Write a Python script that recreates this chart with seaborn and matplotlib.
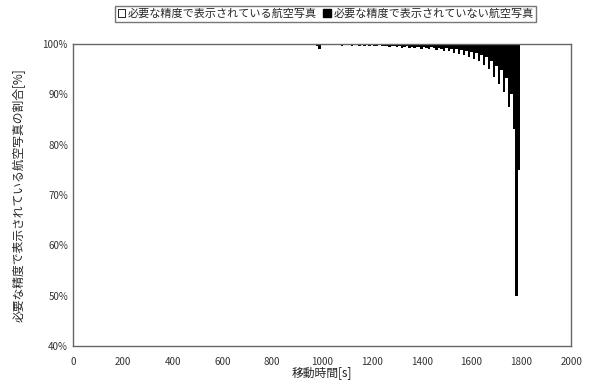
import matplotlib
matplotlib.use("Agg")
import matplotlib.pyplot as plt
from matplotlib.patches import Patch
from matplotlib.ticker import FuncFormatter
import pandas as pd
import seaborn as sns

# 移動時間[s] (10秒ごと)
times = list(range(880, 1800, 10))
# 必要な精度で表示されている航空写真の割合[%]
shown_ok = [
    99.9, 99.8, 99.9, 99.8, 99.9, 99.8, 99.9, 99.7, 99.8, 99.9,
    99.6, 98.9, 99.7, 99.8, 99.9, 99.7, 99.8, 99.8, 99.7, 99.8,
    99.6, 99.8, 99.7, 99.8, 99.6, 99.7, 99.8, 99.6, 99.7, 99.6,
    99.7, 99.5, 99.7, 99.6, 99.5, 99.7, 99.6, 99.5, 99.6, 99.4,
    99.6, 99.5, 99.4, 99.5, 99.2, 99.4, 99.5, 99.2, 99.4, 99.1,
    99.4, 99.3, 99.0, 99.4, 99.2, 98.9, 99.3, 99.1, 98.7, 99.2,
    99.0, 98.5, 99.1, 98.6, 99.0, 98.2, 98.9, 98.0, 98.8, 97.8,
    98.6, 97.4, 98.4, 97.0, 98.1, 96.6, 97.8, 95.8, 97.3, 95.0,
    96.6, 93.5, 95.7, 92.0, 94.8, 90.5, 93.2, 87.5, 90.0, 83.0,
    50.0, 75.0,
]
total = [100.0] * len(times)

legend_labels = ["必要な精度で表示されている航空写真", "必要な精度で表示されていない航空写真"]

df = pd.DataFrame({"time": times, "ok": shown_ok, "total": total})

sns.set_style("white")
plt.rcParams["font.family"] = ["Noto Sans CJK JP", "DejaVu Sans"]

fig = plt.figure(figsize=(5.92, 3.88), dpi=100)
ax = fig.add_axes([0.123, 0.108, 0.842, 0.779])

# black = not shown with needed precision (top part), white = shown (bottom part)
sns.barplot(data=df, x="time", y="total", color="black", width=1, native_scale=True,
            linewidth=0, saturation=1, errorbar=None, ax=ax)
sns.barplot(data=df, x="time", y="ok", color="white", width=1, native_scale=True,
            linewidth=0, saturation=1, errorbar=None, ax=ax)

ax.set_xlim(0, 2000)
ax.set_ylim(40, 100)
ax.set_xticks(range(0, 2001, 200))
ax.set_yticks(range(40, 101, 10))
ax.yaxis.set_major_formatter(FuncFormatter(lambda v, p: f"{int(v)}%"))
ax.tick_params(direction="in", length=3, labelsize=7, colors="#333333", width=0.8)
ax.tick_params(axis="x", pad=8)
for s in ax.spines.values():
    s.set_color("#666666")
    s.set_linewidth(1)

ax.set_xlabel("移動時間[s]", fontsize=8.5, labelpad=0)
ax.set_ylabel("必要な精度で表示されている航空写真の割合[%]", fontsize=8.5, labelpad=12)

handles = [Patch(facecolor="white", edgecolor="black", linewidth=0.6),
           Patch(facecolor="black", edgecolor="black")]
fig.legend(handles, legend_labels, loc="upper center", bbox_to_anchor=(0.55, 0.985),
           ncol=2, fontsize=8, frameon=True, fancybox=False, edgecolor="#555555",
           handlelength=0.7, handleheight=0.7, handletextpad=0.2, columnspacing=0.6,
           borderpad=0.25, borderaxespad=0)

fig.savefig("out.png", dpi=100)
